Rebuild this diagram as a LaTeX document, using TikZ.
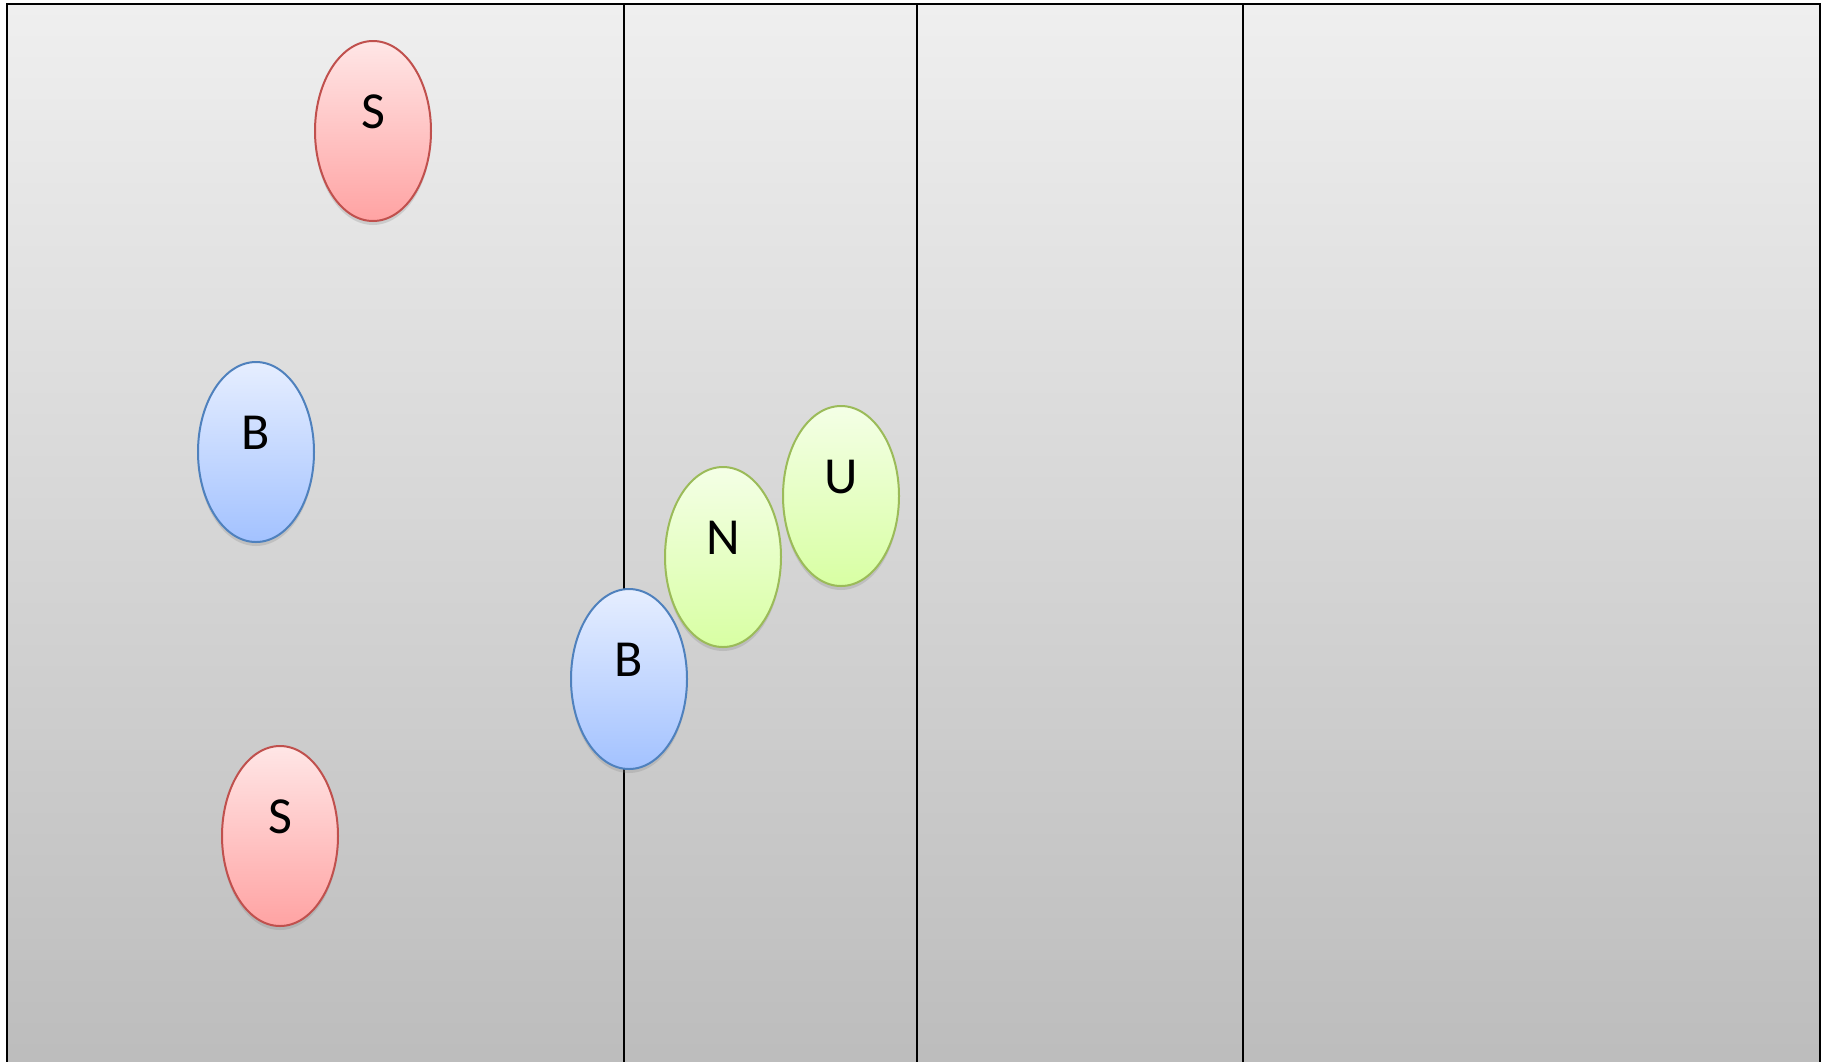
\documentclass[tikz,border=0pt]{standalone}
\usepackage{fontspec}
\setmainfont{Carlito}
\usetikzlibrary{shapes.geometric,shadows}
\definecolor{bgtop}{HTML}{EFEFEF}
\definecolor{bgbot}{HTML}{BCBCBC}
\definecolor{sline}{HTML}{C0504D}
\definecolor{stop}{HTML}{FFE6E6}
\definecolor{sbot}{HTML}{FFA3A3}
\definecolor{bline}{HTML}{4F81BD}
\definecolor{btop}{HTML}{E6EEFF}
\definecolor{bbot}{HTML}{A3C2FF}
\definecolor{gline}{HTML}{9BBB59}
\definecolor{gtop}{HTML}{F4FFE6}
\definecolor{gbot}{HTML}{D8FFA3}
\tikzset{
  ball/.style={ellipse, minimum width=58pt, minimum height=90pt, line width=1pt,
    drop shadow={shadow xshift=0pt, shadow yshift=-2pt, opacity=0.25},
    label={[yshift=9.75pt, font=\fontsize{26}{30}\selectfont]center:#1}},
  sball/.style={ball=#1, draw=sline, top color=stop, bottom color=sbot},
  bball/.style={ball=#1, draw=bline, top color=btop, bottom color=bbot},
  gball/.style={ball=#1, draw=gline, top color=gtop, bottom color=gbot}
}
\begin{document}
\begin{tikzpicture}[x=0.5pt, y=-0.5pt]
    \useasboundingbox (0,0) rectangle (1825,1061);
    \clip (0,0) rectangle (1825,1061);
    % frame and columns
    \shade[top color=bgtop, bottom color=bgbot] (7,4) rectangle (1820,1075);
    \draw[line width=1pt] (7,1075) -- (7,4) -- (1820,4) -- (1820,1075);
    \draw[line width=1pt] (624,4) -- (624,1075);
    \draw[line width=1pt] (917,4) -- (917,1075);
    \draw[line width=1pt] (1243,4) -- (1243,1075);
    % particles
    \node[sball=S] (s1) at (373,131) {};
    \node[bball=B] (b1) at (256,452) {};
    \node[sball=S] (s2) at (280,836) {};
    \node[bball=B] (b2) at (629,679) {};
    \node[gball=N] (n) at (723,557) {};
    \node[gball=U] (u) at (841,496) {};
\end{tikzpicture}
\end{document}
